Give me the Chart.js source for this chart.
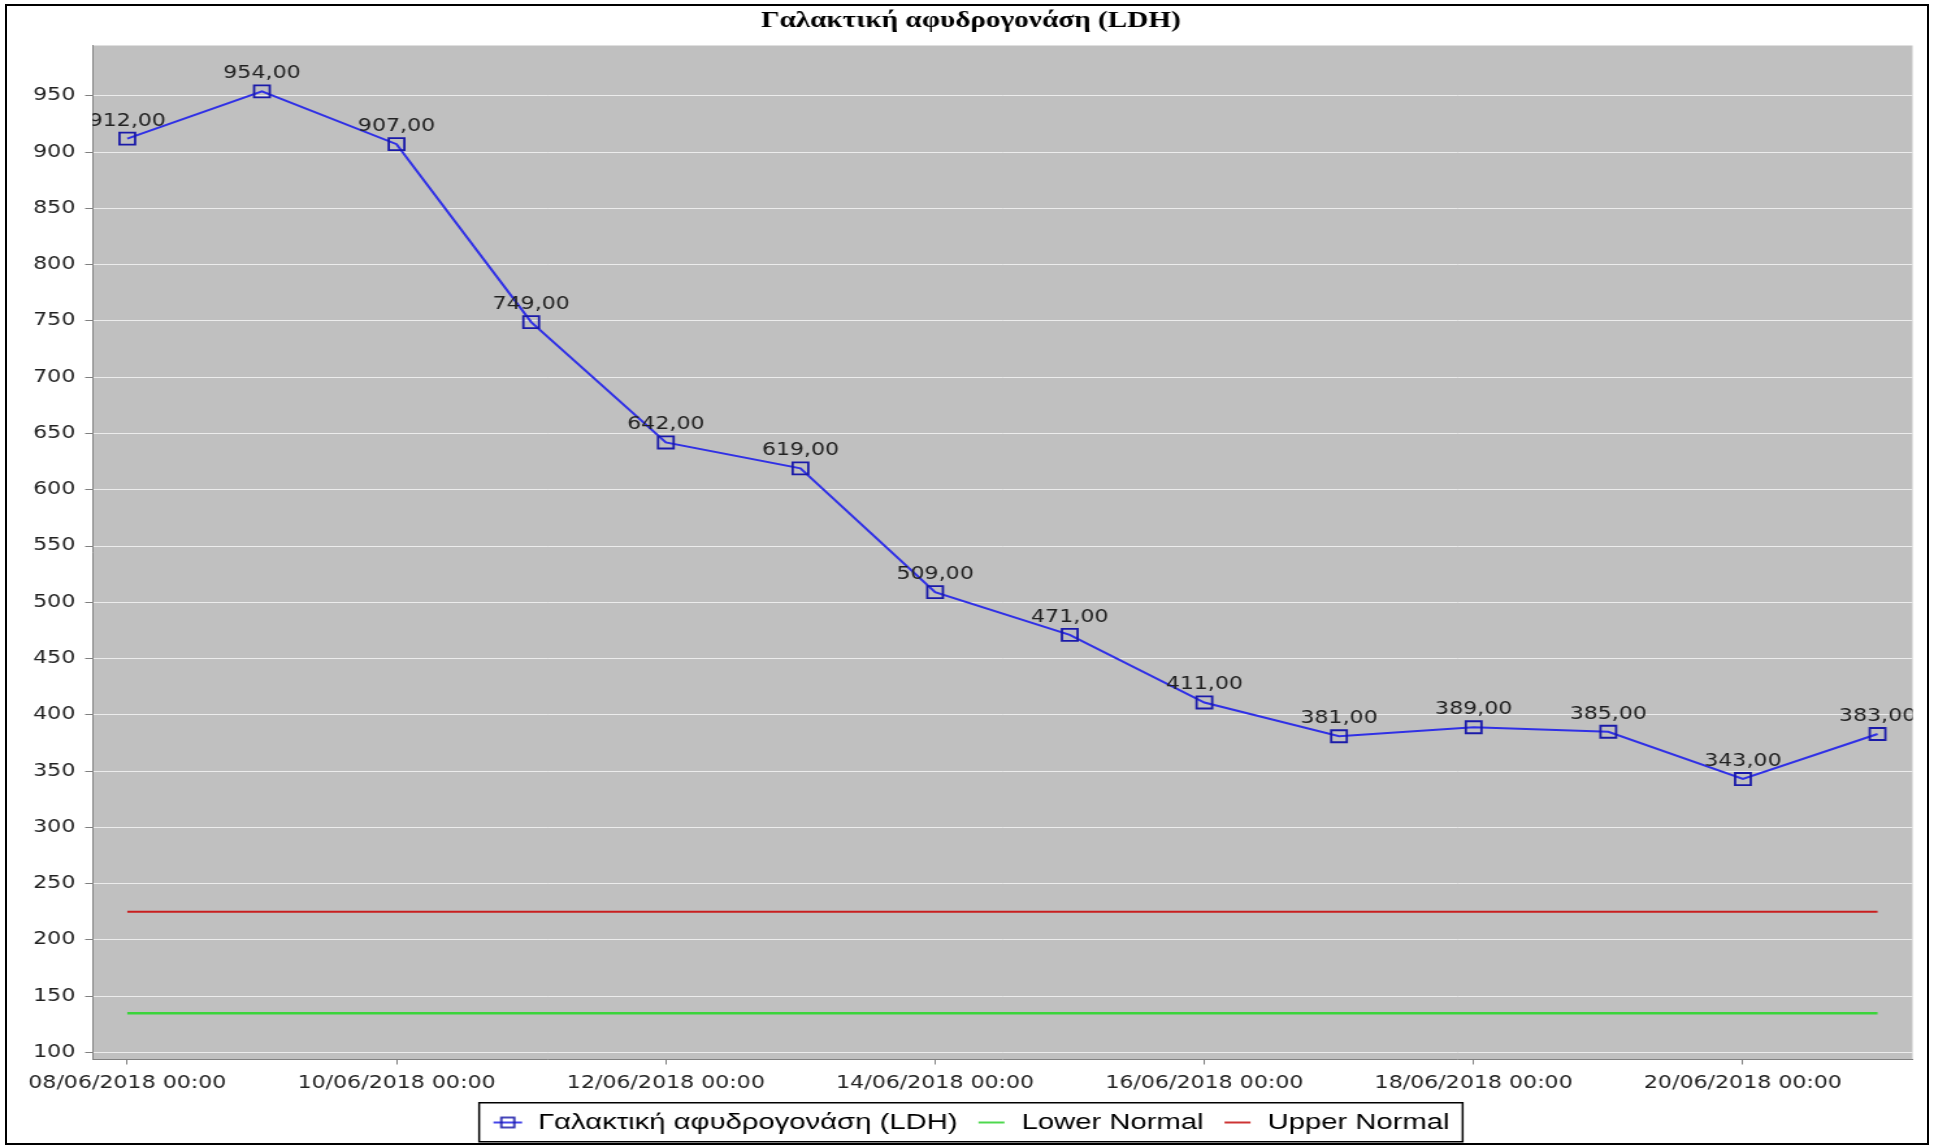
<!DOCTYPE html>
<html><head><meta charset="utf-8">
<script src="https://cdn.jsdelivr.net/npm/chart.js@4.4.1/dist/chart.umd.min.js"></script>
<style>
html,body{margin:0;padding:0;background:#fff;overflow:hidden;}
#wrap{position:relative;width:1934px;height:1146px;background:#fff;}
#c{position:absolute;left:0;top:0;}
#frame{position:absolute;left:5px;top:4px;width:1924px;height:1141px;border:2px solid #000;box-sizing:border-box;pointer-events:none;}
</style></head><body>
<div id="wrap"><canvas id="c" width="1488" height="1146" style="width:1934px;height:1146px"></canvas><div id="frame"></div></div>
<script>
const chartTitle = 'Γαλακτική αφυδρογονάση (LDH)';
const seriesNames = ['Γαλακτική αφυδρογονάση (LDH)', 'Lower Normal', 'Upper Normal'];
const dates = ['08/06/2018','09/06/2018','10/06/2018','11/06/2018','12/06/2018','13/06/2018','14/06/2018',
               '15/06/2018','16/06/2018','17/06/2018','18/06/2018','19/06/2018','20/06/2018','21/06/2018'];
const ldhValues = [912, 954, 907, 749, 642, 619, 509, 471, 411, 381, 389, 385, 343, 383];
const lowerNormal = [135, 135, 135, 135, 135, 135, 135, 135, 135, 135, 135, 135, 135, 135];
const upperNormal = [225, 225, 225, 225, 225, 225, 225, 225, 225, 225, 225, 225, 225, 225];
const xTickLabels = ['08/06/2018 00:00','10/06/2018 00:00','12/06/2018 00:00','14/06/2018 00:00',
                     '16/06/2018 00:00','18/06/2018 00:00','20/06/2018 00:00'];
const yTickValues = [100,150,200,250,300,350,400,450,500,550,600,650,700,750,800,850,900,950];

const toPoints = arr => arr.map((v, i) => ({x: i, y: v}));
const xTickPos = xTickLabels.map(l => dates.indexOf(l.slice(0, 10)));
const fmt = v => v.toFixed(2).replace('.', ',');

const LDH_LINE = '#3030e6';
const LDH_MARK = '#1a1aa8';
const GREEN = '#3ad43a';
const RED = '#c81e1e';

function symbol(kind, color) {
  const c = document.createElement('canvas');
  c.width = 24; c.height = 14;
  const g = c.getContext('2d');
  g.strokeStyle = color; g.lineWidth = 1.8;
  if (kind === 'ldh') {
    g.beginPath(); g.moveTo(1, 7); g.lineTo(23, 7); g.stroke();
    g.strokeStyle = LDH_MARK; g.lineWidth = 1.6;
    g.strokeRect(7, 2, 10, 10);
  } else {
    g.beginPath(); g.moveTo(2, 7); g.lineTo(22, 7); g.stroke();
  }
  return c;
}
const legendSymbols = [symbol('ldh', LDH_LINE), symbol('line', GREEN), symbol('line', RED)];

const plotBg = {
  id: 'plotBg',
  beforeDraw(chart) {
    const a = chart.chartArea, ctx = chart.ctx;
    ctx.save(); ctx.fillStyle = '#c0c0c0';
    ctx.fillRect(a.left, a.top, a.right - a.left, a.bottom - a.top);
    ctx.restore();
  }
};
const valueLabels = {
  id: 'valueLabels',
  afterDatasetsDraw(chart) {
    const a = chart.chartArea, ctx = chart.ctx;
    const meta = chart.getDatasetMeta(0);
    ctx.save();
    ctx.beginPath(); ctx.rect(a.left, a.top, a.right - a.left, a.bottom - a.top); ctx.clip();
    ctx.font = '17px "DejaVu Sans"'; ctx.fillStyle = '#222';
    ctx.textAlign = 'center'; ctx.textBaseline = 'alphabetic';
    meta.data.forEach((pt, i) => ctx.fillText(fmt(ldhValues[i]), pt.x, pt.y - 13));
    ctx.restore();
  }
};
const legendFrame = {
  id: 'legendFrame',
  afterDraw(chart) {
    const hb = chart.legend && chart.legend.legendHitBoxes;
    if (!hb || !hb.length) return;
    const l = Math.min(...hb.map(h => h.left)) - 10;
    const r = Math.max(...hb.map(h => h.left + h.width)) + 10;
    const t = Math.min(...hb.map(h => h.top)) - 8.5;
    const b = Math.max(...hb.map(h => h.top + h.height)) + 8;
    const ctx = chart.ctx;
    ctx.save(); ctx.strokeStyle = '#000'; ctx.lineWidth = 1.5;
    ctx.strokeRect(l, t, r - l, b - t);
    ctx.restore();
  }
};

new Chart(document.getElementById('c'), {
  type: 'line',
  data: {
    datasets: [
      { label: seriesNames[0], data: toPoints(ldhValues), borderColor: LDH_LINE, borderWidth: 2,
        pointStyle: 'rect', pointRadius: 8.5, pointBorderColor: LDH_MARK, pointBorderWidth: 1.8,
        pointBackgroundColor: 'rgba(0,0,0,0)', tension: 0, fill: false },
      { label: seriesNames[1], data: toPoints(lowerNormal), borderColor: GREEN, borderWidth: 2.5,
        pointRadius: 0, tension: 0, fill: false },
      { label: seriesNames[2], data: toPoints(upperNormal), borderColor: RED, borderWidth: 2,
        pointRadius: 0, tension: 0, fill: false }
    ]
  },
  options: {
    responsive: false,
    devicePixelRatio: 1,
    animation: false,
    layout: { padding: { left: 22.5, right: 16.5, top: 0, bottom: 2.25 } },
    scales: {
      x: {
        type: 'linear', min: -0.26, max: 13.26,
        afterBuildTicks: s => { s.ticks = xTickPos.map(v => ({value: v})); },
        afterFit: s => { s.height = 37.75; },
        grid: { drawOnChartArea: false, drawTicks: true, tickLength: 5, tickColor: '#808080', tickWidth: 1 },
        border: { display: true, color: '#808080', width: 1 },
        ticks: { padding: 9, maxRotation: 0, autoSkip: false, color: '#222',
                 font: { family: 'DejaVu Sans', size: 17 },
                 callback: (v) => { const k = xTickPos.indexOf(v); return k >= 0 ? xTickLabels[k] : ''; } }
      },
      y: {
        min: 93.8, max: 994.7,
        afterBuildTicks: s => { s.ticks = yTickValues.map(v => ({value: v})); },
        afterFit: s => { s.width = 48.5; },
        grid: { color: '#ececec', lineWidth: 1, borderDash: [5, 3], drawTicks: true, tickLength: 5.5,
                tickColor: '#808080', tickBorderDash: [], tickWidth: 1 },
        border: { display: true, color: '#808080', width: 1 },
        ticks: { padding: 7.5, color: '#222', font: { family: 'DejaVu Sans', size: 17 },
                 callback: v => String(v) }
      }
    },
    plugins: {
      title: { display: true, text: chartTitle, color: '#000',
               font: { family: 'Liberation Serif', size: 22.5, weight: 'bold' },
               padding: { top: 8, bottom: 10.5 } },
      legend: {
        display: true, position: 'bottom', align: 'center',
        labels: {
          usePointStyle: true, pointStyleWidth: 24, padding: 14, color: '#000',
          font: { family: 'Liberation Sans', size: 22.5 },
          generateLabels: (chart) => {
            const items = Chart.defaults.plugins.legend.labels.generateLabels(chart);
            items.forEach(it => { it.pointStyle = legendSymbols[it.datasetIndex]; });
            return items;
          }
        }
      },
      tooltip: { enabled: false }
    }
  },
  plugins: [plotBg, valueLabels, legendFrame]
});
</script>
</body></html>
